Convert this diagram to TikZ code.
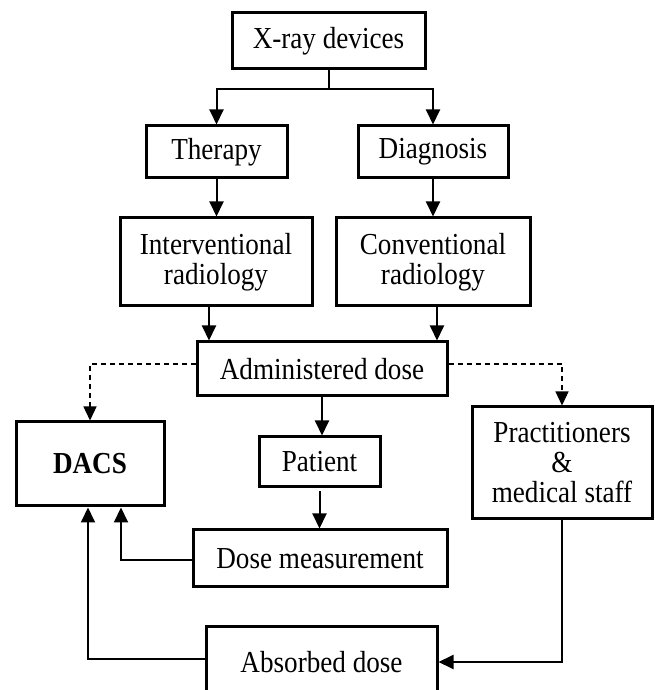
\documentclass[tikz,border=0pt]{standalone}
\usepackage{fontspec}
\setmainfont[FakeStretch=0.89]{Liberation Serif}
\usetikzlibrary{arrows.meta,calc}
\begin{document}
\begin{tikzpicture}[x=1pt,y=1pt,
  box/.style={draw,line width=3pt,inner sep=0pt,align=center,font=\fontsize{30.5}{30}\selectfont},
  arr/.style={line width=2pt,-{Triangle[width=14pt,length=15pt]}},
  darr/.style={line width=1.3pt,dash pattern=on 5pt off 4pt,-{Triangle[width=13pt,length=14pt]}}]
\useasboundingbox (0,0) rectangle (654,690);
\node[box,minimum width=193pt,minimum height=56pt] (xray) at (328.5,649) {X-ray devices};
\node[box,minimum width=141pt,minimum height=52pt] (therapy) at (216.5,538) {Therapy};
\node[box,minimum width=150pt,minimum height=52pt] (diag) at (433,538) {Diagnosis};
\node[box,minimum width=192pt,minimum height=88pt] (interv) at (216,428) {Interventional\\radiology};
\node[box,minimum width=194pt,minimum height=88pt] (conv) at (433,428) {Conventional\\radiology};
\node[box,minimum width=250pt,minimum height=54pt] (admin) at (322,321) {Administered dose};
\node[box,minimum width=148pt,minimum height=84pt] (dacs) at (90,226) {\textbf{DACS}};
\node[box,minimum width=121pt,minimum height=50pt] (patient) at (319.5,228) {Patient};
\node[box,minimum width=254pt,minimum height=57pt] (dosem) at (320,131.5) {Dose measurement};
\node[box,minimum width=180pt,minimum height=112pt] (pract) at (562,227) {Practitioners\\\&\\medical staff};
\node[box,minimum width=231pt,minimum height=70pt] (absorbed) at (321.5,28) {Absorbed dose};
% top split
\draw[line width=2pt] (xray.south) -- ++(0,-19) coordinate (split);
\draw[arr] (split) -| (therapy.north);
\draw[arr] (split) -| (diag.north);
\draw[arr] (therapy.south) -- (therapy.south |- interv.north);
\draw[arr] (diag.south) -- (diag.south |- conv.north);
\draw[arr] ([xshift=-7pt]interv.south) -- ([xshift=-7pt]interv.south |- admin.north);
\draw[arr] ([xshift=4pt]conv.south) -- ([xshift=4pt]conv.south |- admin.north);
\draw[arr] (admin.south) -- (admin.south |- patient.north);
\draw[arr] ([yshift=-3pt]patient.south) -- (patient.south |- dosem.north);
% dashed
\draw[darr] ([yshift=5pt]admin.west) -| (dacs.north);
\draw[darr] ([yshift=5pt]admin.east) -| (pract.north);
% feedback
\draw[arr] ([yshift=-2pt]dosem.west) -| ([xshift=31pt]dacs.south);
\draw[arr] ([yshift=3pt]absorbed.west) -| ([xshift=-2pt]dacs.south);
\draw[arr] (pract.south) |- (absorbed.east);
\end{tikzpicture}
\end{document}
